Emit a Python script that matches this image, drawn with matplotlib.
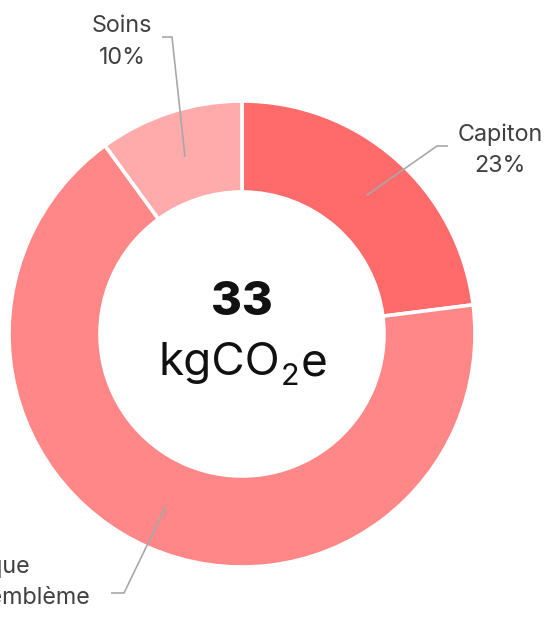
import matplotlib.pyplot as plt
import numpy as np

plt.rcParams['font.family'] = ['Inter', 'DejaVu Sans']

# Share of the total footprint per component (%), clockwise from 12 o'clock
labels = ['Capiton', 'Coque plastique\nTissu extérieur et emblème', 'Soins']
shares = [23, 67, 10]
colors = ['#FF6B6B', '#FF8787', '#FFABAB']
total_kg = 33

W, H = 548, 641
fig = plt.figure(figsize=(W / 100, H / 100), dpi=100)
ax = fig.add_axes([0, 0, 1, 1])

cx, cy = 242, H - 334
R = 233
ring = 91

wedges, _ = ax.pie(shares, colors=colors, startangle=90, counterclock=False,
                   center=(cx, cy), radius=R,
                   wedgeprops=dict(width=ring, edgecolor='white', linewidth=2.6))

ax.set_xlim(0, W)
ax.set_ylim(0, H)
ax.set_aspect('equal')
ax.axis('off')

# total in the hole
ax.text(cx, H - 303, f'{total_kg}', ha='center', va='center',
        fontsize=34, fontweight='heavy', color='#111111')

# unit with a real lowered "2": lay out the three pieces side by side
renderer = fig.canvas.get_renderer()
base_y = H - 375
pieces = [('kgCO', 33, 0), ('2', 22, -10), ('e', 33, 0)]
arts = []
for s, fs, dy in pieces:
    t = ax.text(0, base_y + dy, s, ha='left', va='baseline',
                fontsize=fs, color='#111111')
    arts.append(t)
widths = [a.get_window_extent(renderer).width for a in arts]
x = cx + 1 - (sum(widths) + 2) / 2
for a, w in zip(arts, widths):
    a.set_x(x)
    x += w + 1

# callouts: (anchor in ring, elbow, end of line, text position, alignment)
line_col = '#A8A8A8'
txt_col = '#404040'
callouts = [
    ((367, 195), (437, 146), (448, 146), (500, 150), 'center'),
    ((166, 506), (124, 593), (111, 593), (90, 598), 'right'),
    ((185, 157), (172, 37), (162, 37), (122, 42), 'center'),
]
for (lab, pct), (p0, p1, p2, tp, ha) in zip(zip(labels, shares), callouts):
    xs = [p0[0], p1[0], p2[0]]
    ys = [H - p0[1], H - p1[1], H - p2[1]]
    ax.plot(xs, ys, color=line_col, lw=1.2, solid_capstyle='butt')
    ax.text(tp[0], H - tp[1], f'{lab}\n{pct}%', ha=ha, va='center',
            multialignment='center', fontsize=16.8, color=txt_col,
            linespacing=1.55)

fig.savefig('out.png', dpi=100)
